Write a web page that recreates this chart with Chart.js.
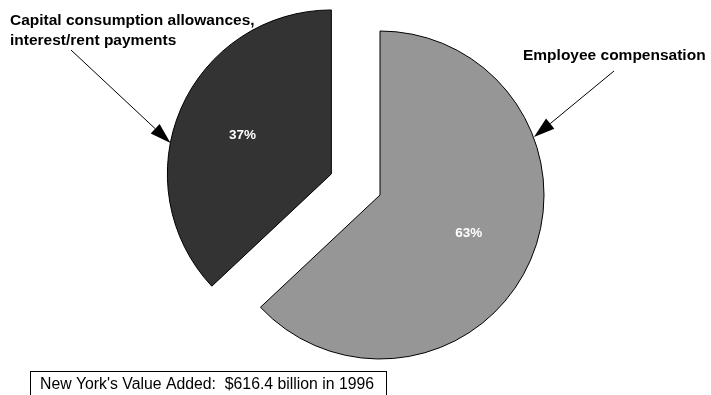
<!DOCTYPE html>
<html>
<head>
<meta charset="utf-8">
<script src="https://cdn.jsdelivr.net/npm/chart.js@4/dist/chart.umd.min.js"></script>
<style>
  html, body { margin: 0; padding: 0; background: #ffffff; }
  canvas { display: block; }
</style>
</head>
<body>
<canvas id="c" width="711" height="395"></canvas>
<script>
// Components of value added (percent of total)
const categories = ['Employee compensation', 'Capital consumption allowances, interest/rent payments'];
const shares = [63, 37];
const sliceColors = ['#969696', '#333333'];
const explode = [0, 53];
const footnote = "New York's Value Added:  $616.4 billion in 1996";

const FONT = '"Liberation Sans", Arial, Helvetica, sans-serif';

// Pull exploded slices straight out along their bisector, keeping their radius
const explodeSlices = {
  id: 'explodeSlices',
  afterDatasetsUpdate(chart) {
    const meta = chart.getDatasetMeta(0);
    meta.data.forEach((arc, i) => {
      const d = explode[i] || 0;
      if (!d) return;
      const mid = (arc.startAngle + arc.endAngle) / 2;
      arc.x += Math.cos(mid) * d;
      arc.y += Math.sin(mid) * d;
    });
  }
};

function arrow(ctx, x1, y1, x2, y2) {
  const ang = Math.atan2(y2 - y1, x2 - x1);
  const len = 21, half = 6.5;
  const bx = x2 - len * Math.cos(ang), by = y2 - len * Math.sin(ang);
  ctx.save();
  ctx.strokeStyle = '#000';
  ctx.fillStyle = '#000';
  ctx.lineWidth = 1;
  ctx.beginPath();
  ctx.moveTo(x1, y1);
  ctx.lineTo(bx, by);
  ctx.stroke();
  ctx.beginPath();
  ctx.moveTo(x2, y2);
  ctx.lineTo(bx + half * Math.sin(ang), by - half * Math.cos(ang));
  ctx.lineTo(bx - half * Math.sin(ang), by + half * Math.cos(ang));
  ctx.closePath();
  ctx.fill();
  ctx.restore();
}

const annotations = {
  id: 'annotations',
  afterDraw(chart) {
    const ctx = chart.ctx;
    const meta = chart.getDatasetMeta(0);
    const total = shares.reduce((a, b) => a + b, 0);

    // percentage labels inside slices
    ctx.save();
    ctx.fillStyle = '#ffffff';
    ctx.font = 'bold 13.5px ' + FONT;
    ctx.textAlign = 'center';
    ctx.textBaseline = 'middle';
    meta.data.forEach((arc, i) => {
      const mid = (arc.startAngle + arc.endAngle) / 2;
      const d = 0.59 * arc.outerRadius;
      ctx.fillText(Math.round(shares[i] / total * 100) + '%',
        arc.x + Math.cos(mid) * d, arc.y + Math.sin(mid) * d);
    });
    ctx.restore();

    // category callouts
    ctx.save();
    ctx.fillStyle = '#000';
    ctx.font = 'bold 15.5px ' + FONT;
    ctx.textAlign = 'left';
    ctx.textBaseline = 'alphabetic';
    ctx.fillText('Capital consumption allowances,', 10, 25);
    ctx.fillText('interest/rent payments', 10, 45);
    ctx.fillText(categories[0], 523, 60);
    ctx.restore();

    arrow(ctx, 71, 50, 170.5, 143);
    arrow(ctx, 614, 71, 534, 137);

    // footnote box
    ctx.save();
    ctx.fillStyle = '#ffffff';
    ctx.strokeStyle = '#000';
    ctx.lineWidth = 1;
    ctx.fillRect(30.5, 371.5, 356, 30);
    ctx.strokeRect(30.5, 371.5, 356, 30);
    ctx.fillStyle = '#000';
    ctx.font = '15.8px ' + FONT;
    ctx.textBaseline = 'alphabetic';
    ctx.fillText(footnote, 40, 389);
    ctx.restore();
  }
};

new Chart(document.getElementById('c'), {
  type: 'pie',
  data: {
    labels: categories,
    datasets: [{
      data: shares,
      backgroundColor: sliceColors,
      borderColor: '#000000',
      borderWidth: 1,
      clip: false
    }]
  },
  options: {
    responsive: false,
    animation: false,
    radius: 164,
    rotation: 0,
    layout: { padding: { left: 49, right: 0, top: 0, bottom: 5 } },
    plugins: {
      legend: { display: false },
      tooltip: { enabled: false },
      title: { display: false }
    }
  },
  plugins: [explodeSlices, annotations]
});
</script>
</body>
</html>
